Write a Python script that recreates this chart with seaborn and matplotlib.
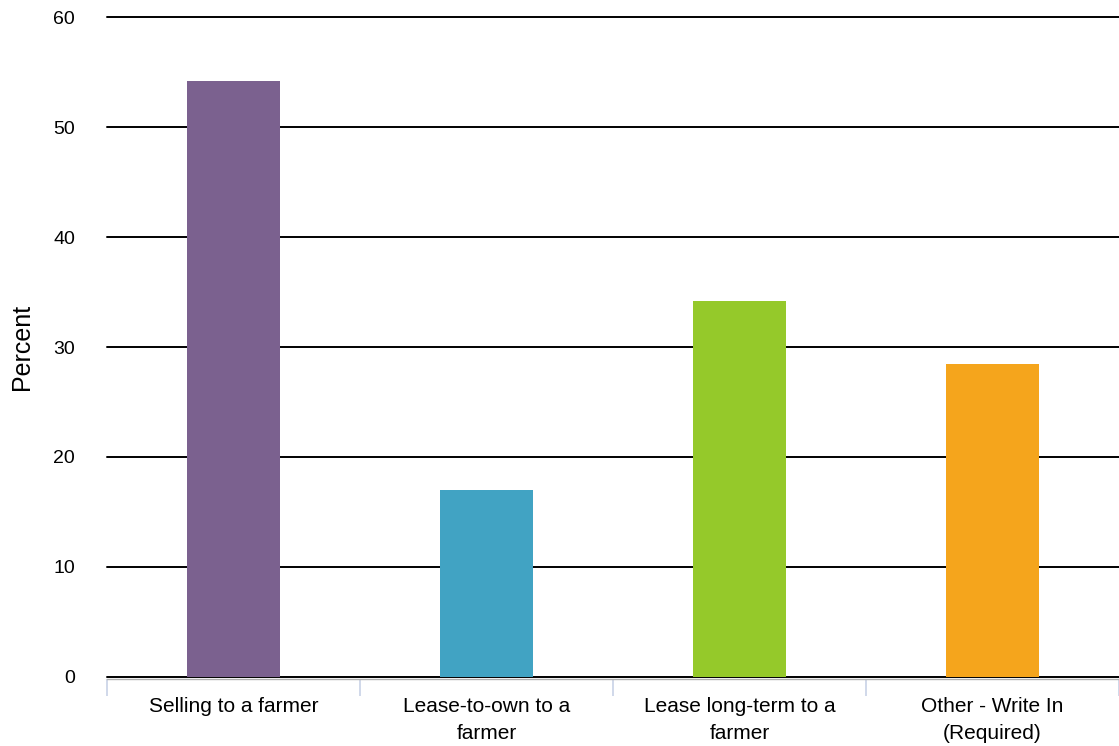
import matplotlib
matplotlib.use("Agg")
import matplotlib.pyplot as plt
import seaborn as sns
import pandas as pd

categories = ["Selling to a farmer", "Lease-to-own to a\nfarmer",
              "Lease long-term to a\nfarmer", "Other - Write In\n(Required)"]
percent = [54.2, 17.0, 34.2, 28.5]
colors = ["#7B618F", "#41A3C3", "#95C92A", "#F5A51C"]

df = pd.DataFrame({"category": categories, "percent": percent})

sns.set_style("white")
plt.rcParams["font.family"] = ["Liberation Sans", "DejaVu Sans"]

fig = plt.figure(figsize=(11.19, 7.46), dpi=100)
ax = fig.add_axes([0.0956, 0.0925, 0.9044, 0.8847])

sns.barplot(data=df, x="category", y="percent", hue="category",
            palette=colors, width=0.37, legend=False, ax=ax,
            saturation=1, linewidth=0)

ax.set_ylim(0, 60)
ax.set_xlim(-0.5, 3.5)
ax.set_yticks(range(0, 61, 10))
ax.yaxis.grid(True, color="black", linewidth=1.4)
for gl in ax.get_ygridlines():
    gl.set_clip_on(False)
ax.set_axisbelow(True)
for s in ["top", "right", "left"]:
    ax.spines[s].set_visible(False)
ax.spines["bottom"].set_color("#B0B0B0")
ax.spines["bottom"].set_linewidth(1)
ax.spines["bottom"].set_position(("outward", 1.5))

ax.set_xlabel("")
ax.set_ylabel("Percent", fontsize=18, labelpad=14, color="black")
ax.tick_params(axis="y", length=0, labelsize=14, pad=23, labelcolor="black")
ax.tick_params(axis="x", which="major", length=0, labelsize=15, pad=13,
               labelcolor="black")
ax.set_xticks([-0.5, 0.5, 1.5, 2.5, 3.5], minor=True)
ax.tick_params(axis="x", which="minor", bottom=True, length=12,
               color="#C8D2E6", width=1.2)
for lbl in ax.get_xticklabels():
    lbl.set_linespacing(1.55)

fig.savefig("out.png", dpi=100)
